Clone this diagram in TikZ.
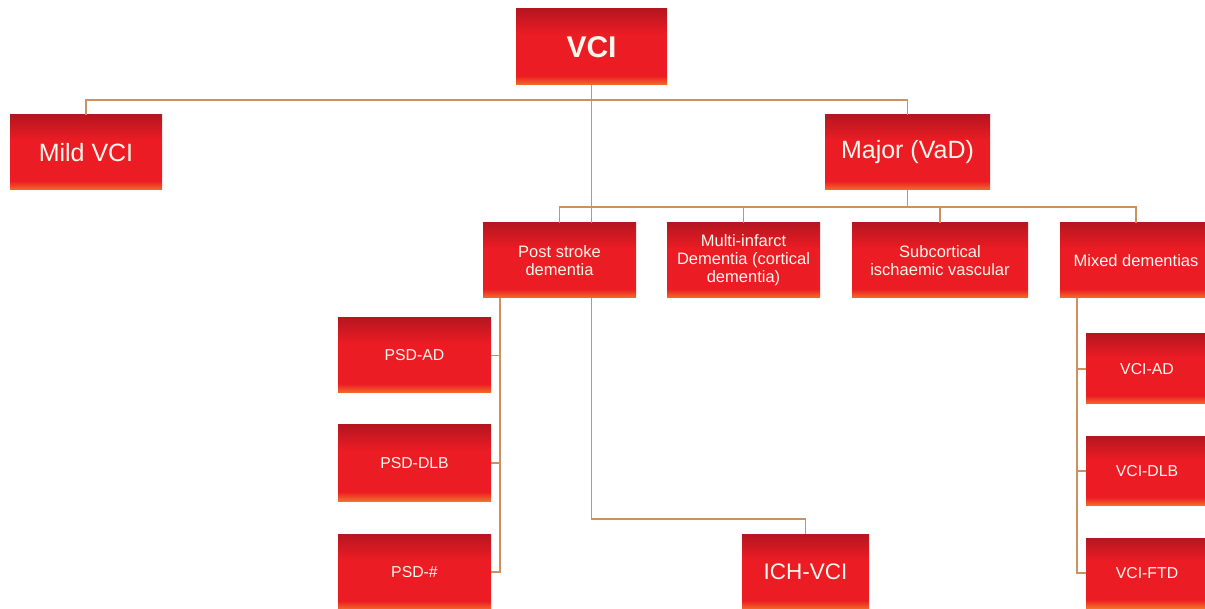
\documentclass[tikz,border=0pt]{standalone}
\usepackage{fontspec}
\setmainfont{Liberation Sans}
\definecolor{boxtop}{RGB}{182,22,32}
\definecolor{boxmid}{RGB}{236,28,36}
\definecolor{boxbot}{RGB}{242,112,40}
\definecolor{connc}{RGB}{205,145,95}
\definecolor{txt}{RGB}{255,246,236}
\pgfdeclareverticalshading{redbox}{100bp}{color(0bp)=(boxbot); color(25bp)=(boxbot); color(31bp)=(boxmid); color(58bp)=(boxmid); color(75bp)=(boxtop); color(100bp)=(boxtop)}
\begin{document}
\begin{tikzpicture}[x=1pt,y=-1pt,
  box/.style={shading=redbox, inner sep=0pt, text=txt, align=center, minimum height=75pt},
  big/.style={box, font=\fontsize{25}{29}\selectfont},
  mid/.style={box, minimum width=153pt, font=\fontsize{16.5}{18}\selectfont},
  small/.style={box, font=\fontsize{15.8}{18}\selectfont},
  ln/.style={draw=connc, line width=1.9pt}]
\useasboundingbox (0,0) rectangle (1205,609);
\clip (0,0) rectangle (1205,609);
% level 0
\node[box, minimum width=151pt, minimum height=76pt, font=\fontsize{30}{34}\selectfont\bfseries] (vci) at (591.5,47) {VCI};
% level 1
\node[big, minimum width=152pt] (mild) at (86,152.5) {Mild VCI};
\node[big, minimum width=165pt] (major) at (907.5,152.5) {Major (VaD)};
% level 2
\node[mid] (ps) at (559.5,260.5) {Post stroke\\dementia};
\node[mid] (mi) at (743.5,260.5) {Multi-infarct\\Dementia (cortical\\dementia)};
\node[mid, minimum width=176pt] (sub) at (940,260.5) {Subcortical\\ischaemic vascular};
\node[mid, minimum width=152pt] (mix) at (1136,260.5) {Mixed dementias};
% PSD
\node[small, minimum width=153pt] (psdad) at (414.5,355.5) {PSD-AD};
\node[small, minimum width=153pt, minimum height=76pt] (psddlb) at (414.5,463) {PSD-DLB};
\node[small, minimum width=153pt, minimum height=76pt] (psdh) at (414.5,572) {PSD-\#};
% ICH
\node[box, minimum width=127pt, font=\fontsize{22.5}{26}\selectfont] (ich) at (805.5,572) {ICH-VCI};
% VCI mixes
\node[small, minimum width=122pt, minimum height=70pt] (vciad) at (1147,369) {VCI-AD};
\node[small, minimum width=122pt, minimum height=69pt] (vcidlb) at (1147,471) {VCI-DLB};
\node[small, minimum width=122pt, minimum height=70pt] (vciftd) at (1147,573) {VCI-FTD};
% connectors
\coordinate (t1) at (0,100);
\coordinate (t2) at (0,207);
\draw[ln] (mild.north) |- (t1 -| vci.south) -| (major.north);
\draw[ln] (vci.south) -- (vci.south |- ps.north);
\draw[ln] (major.south) -- (major.south |- t2);
\draw[ln] (ps.north) |- (t2 -| mix.north) -- (mix.north);
\draw[ln] (mi.north) -- (mi.north |- t2);
\draw[ln] (sub.north) -- (sub.north |- t2);
% post stroke children
\coordinate (psx) at (500,0);
\draw[ln] (ps.south -| psx) -- (psdh.east -| psx) -- (psdh.east);
\draw[ln] (psdad.east) -- (psdad.east -| psx);
\draw[ln] (psddlb.east) -- (psddlb.east -| psx);
\coordinate (ichy) at (0,519);
\draw[ln] (ps.south -| vci.south) -- (ichy -| vci.south) -| (ich.north);
% mixed children
\coordinate (mx) at (1077,0);
\draw[ln] (mix.south -| mx) -- (vciftd.west -| mx) -- (vciftd.west);
\draw[ln] (vciad.west) -- (vciad.west -| mx);
\draw[ln] (vcidlb.west) -- (vcidlb.west -| mx);
\end{tikzpicture}
\end{document}
